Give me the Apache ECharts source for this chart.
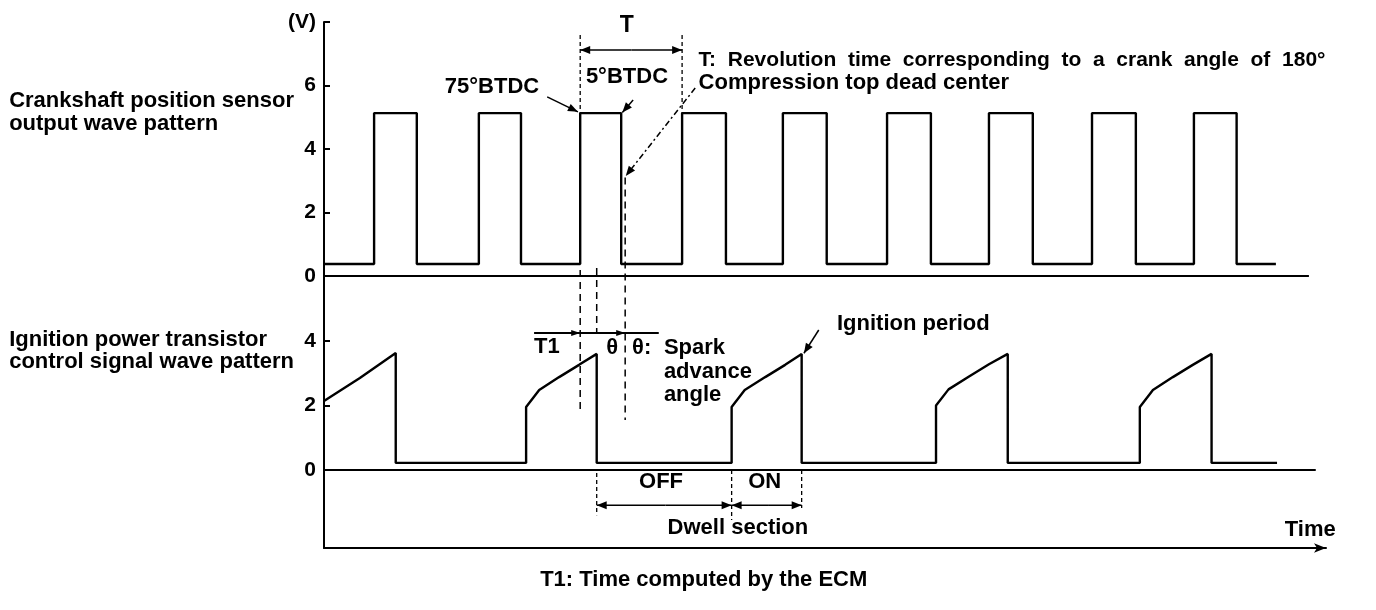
<!DOCTYPE html>
<html>
<head>
<meta charset="utf-8">
<script src="https://cdn.jsdelivr.net/npm/echarts@6/dist/echarts.min.js"></script>
<style>
  html, body { margin: 0; padding: 0; background: #fff; }
  #chart { width: 1376px; height: 610px; }
</style>
</head>
<body>
<div id="chart"></div>
<script>
// crank angle (deg) where the crankshaft sensor pulses rise / fall
var crankRise = [88, 272, 450, 629, 806, 989, 1168, 1349, 1528];
var crankFall = [163, 346, 522, 706, 883, 1066, 1245, 1426, 1603];
var crankEnd = 1672;
var crankLow = 0.38;
var crankHigh = 5.13;

// ignition power transistor control signal (deg, V)
var ignTime = [0, 63, 126, 126, 355, 355, 378, 413, 448, 479, 479,
               716, 716, 739, 775, 810, 839, 839,
               1075, 1075, 1097, 1133, 1168, 1201, 1201,
               1433, 1433, 1456, 1491, 1526, 1559, 1559, 1674];
var ignVolt = [2.14, 2.85, 3.63, 0.22, 0.22, 1.95, 2.48, 2.88, 3.26, 3.6, 0.22,
               0.22, 1.95, 2.48, 2.88, 3.26, 3.6, 0.22,
               0.22, 2.0, 2.5, 2.9, 3.28, 3.6, 0.22,
               0.22, 1.95, 2.48, 2.88, 3.26, 3.6, 0.22, 0.22];

var upperTicks = [0, 2, 4, 6, 8];
var lowerTicks = [0, 2, 4];
var upperBaseEnd = 1730;
var lowerBaseEnd = 1742;

var FAMILY = '"Liberation Sans", Arial, sans-serif';
var FONT = 'bold 22px ' + FAMILY;

var crankPts = [[0, crankLow]];
for (var i = 0; i < crankRise.length; i++) {
    crankPts.push([crankRise[i], crankLow], [crankRise[i], crankHigh],
                  [crankFall[i], crankHigh], [crankFall[i], crankLow]);
}
crankPts.push([crankEnd, crankLow]);

var ignPts = ignTime.map(function (t, i) { return [t, ignVolt[i]]; });

function yAxis(grid, min, max, ticks, fmt) {
    return {
        type: 'value', gridIndex: grid, min: min, max: max,
        axisLine: { show: true, lineStyle: { color: '#000', width: 2 } },
        axisTick: { show: true, inside: true, length: 6, customValues: ticks,
                    lineStyle: { color: '#000', width: 2 } },
        axisLabel: { customValues: ticks, margin: 8, color: '#000',
                     fontSize: 21, fontWeight: 'bold', fontFamily: FAMILY,
                     formatter: fmt },
        splitLine: { show: false }
    };
}

function waveLine(grid, data, w) {
    return {
        type: 'line', xAxisIndex: grid, yAxisIndex: grid, data: data,
        symbol: 'none', silent: true, animation: false,
        lineStyle: { color: '#000', width: w || 2.4 }
    };
}

var chart = echarts.init(document.getElementById('chart'));
chart.setOption({
    backgroundColor: '#fff',
    animation: false,
    grid: [
        { left: 324, top: 22, width: 1002, height: 278 },
        { left: 324, top: 300, width: 1002, height: 248 }
    ],
    xAxis: [
        { type: 'value', gridIndex: 0, min: 0, max: 1760, show: false },
        { type: 'value', gridIndex: 1, min: 0, max: 1760,
          axisLine: { show: true, onZero: false, symbol: ['none', 'arrow'], symbolSize: [7, 12],
                      lineStyle: { color: '#000', width: 2 } },
          axisTick: { show: false }, axisLabel: { show: false }, splitLine: { show: false } }
    ],
    yAxis: [
        yAxis(0, -0.756, 8, upperTicks, function (v) { return v === 8 ? '(V)' : v; }),
        yAxis(1, -2.419, 5.271, lowerTicks)
    ],
    series: [
        waveLine(0, crankPts),
        waveLine(0, [[0, 0], [upperBaseEnd, 0]], 2),
        waveLine(1, ignPts),
        waveLine(1, [[0, 0], [lowerBaseEnd, 0]], 2)
    ]
});

// ---- annotations, anchored in data coordinates ----
function P(g, x, y) { return chart.convertToPixel({ gridIndex: g }, [x, y]); }

var els = [];
function seg(a, b, dash, w) {
    els.push({ type: 'line', silent: true,
        shape: { x1: a[0], y1: a[1], x2: b[0], y2: b[1] },
        style: { stroke: '#000', lineWidth: w || 1.5, lineDash: dash || null } });
}
function head(tip, from, len, wid) {
    len = len || 10; wid = wid || 4;
    var dx = tip[0] - from[0], dy = tip[1] - from[1];
    var d = Math.sqrt(dx * dx + dy * dy); dx /= d; dy /= d;
    var bx = tip[0] - dx * len, by = tip[1] - dy * len;
    els.push({ type: 'polygon', silent: true,
        shape: { points: [tip, [bx - dy * wid, by + dx * wid], [bx + dy * wid, by - dx * wid]] },
        style: { fill: '#000' } });
}
function arrow(a, b, dash) { seg(a, b, dash); head(b, a); }
function txt(p, s, align, font) {
    els.push({ type: 'text', silent: true, x: p[0], y: p[1],
        style: { text: s, font: font || FONT, fill: '#000',
                 align: align || 'left', verticalAlign: 'middle',
                 textAlign: align || 'left', textVerticalAlign: 'middle' } });
}
var DASH = [7, 5];

// left captions
txt(P(0, -553, 5.51), 'Crankshaft position sensor');
txt(P(0, -553, 4.79), 'output wave pattern');
txt(P(1, -553, 4.03), 'Ignition power transistor');
txt(P(1, -553, 3.35), 'control signal wave pattern');

// T bracket
seg(P(0, 450, 7.59), P(0, 450, 5.13), [4, 3], 1.3);
seg(P(0, 629, 7.59), P(0, 629, 5.13), [4, 3], 1.3);
arrow(P(0, 540, 7.12), P(0, 450, 7.12));
arrow(P(0, 540, 7.12), P(0, 629, 7.12));
txt(P(0, 532, 7.9), 'T', 'center', 'bold 23px ' + FAMILY);
txt(P(0, 658, 6.8), 'T:  Revolution  time  corresponding  to  a  crank  angle  of  180\u00b0',
    'left', 'bold 21px ' + FAMILY);
txt(P(0, 658, 6.08), 'Compression top dead center');

// BTDC markers
txt(P(0, 378, 5.95), '75\u00b0BTDC', 'right');
arrow(P(0, 392, 5.64), P(0, 446, 5.17));
txt(P(0, 460, 6.27), '5\u00b0BTDC');
arrow(P(0, 543, 5.54), P(0, 524, 5.15));
arrow(P(0, 652, 5.92), P(0, 530, 3.15), [6, 3, 2, 3]);

// vertical reference lines
seg(P(0, 450, 0.19), P(1, 450, 1.8), DASH);
seg(P(0, 479, 0.25), P(1, 479, 4.25), DASH);
seg(P(0, 529, 3.1), P(1, 529, 1.55), DASH);

// T1 / theta
seg(P(1, 369, 4.25), P(1, 588, 4.25), null, 2);
head(P(1, 450, 4.25), P(1, 400, 4.25), 9, 3);
head(P(1, 529, 4.25), P(1, 480, 4.25), 9, 3);
txt(P(1, 369, 3.81), 'T1');
txt(P(1, 506, 3.78), '\u03b8', 'center');
txt(P(1, 541, 3.78), '\u03b8:');
txt(P(1, 597, 3.78), 'Spark');
txt(P(1, 597, 3.04), 'advance');
txt(P(1, 597, 2.33), 'angle');

// ignition period
txt(P(1, 901, 4.53), 'Ignition period');
arrow(P(1, 869, 4.34), P(1, 843, 3.62));

// dwell section
seg(P(1, 479, -0.09), P(1, 479, -1.4), [4, 3], 1.3);
seg(P(1, 716, 0), P(1, 716, -1.55), [4, 3], 1.3);
seg(P(1, 839, 0), P(1, 839, -1.18), [4, 3], 1.3);
arrow(P(1, 600, -1.09), P(1, 479, -1.09));
arrow(P(1, 600, -1.09), P(1, 716, -1.09));
arrow(P(1, 780, -1.09), P(1, 716, -1.09));
arrow(P(1, 780, -1.09), P(1, 839, -1.09));
txt(P(1, 592, -0.37), 'OFF', 'center');
txt(P(1, 774, -0.37), 'ON', 'center');
txt(P(1, 727, -1.8), 'Dwell section', 'center');

txt(P(1, 1777, -1.86), 'Time', 'right');
txt(P(1, 667, -3.41), 'T1: Time computed by the ECM', 'center');

chart.setOption({ graphic: { elements: els } });
</script>
</body>
</html>
